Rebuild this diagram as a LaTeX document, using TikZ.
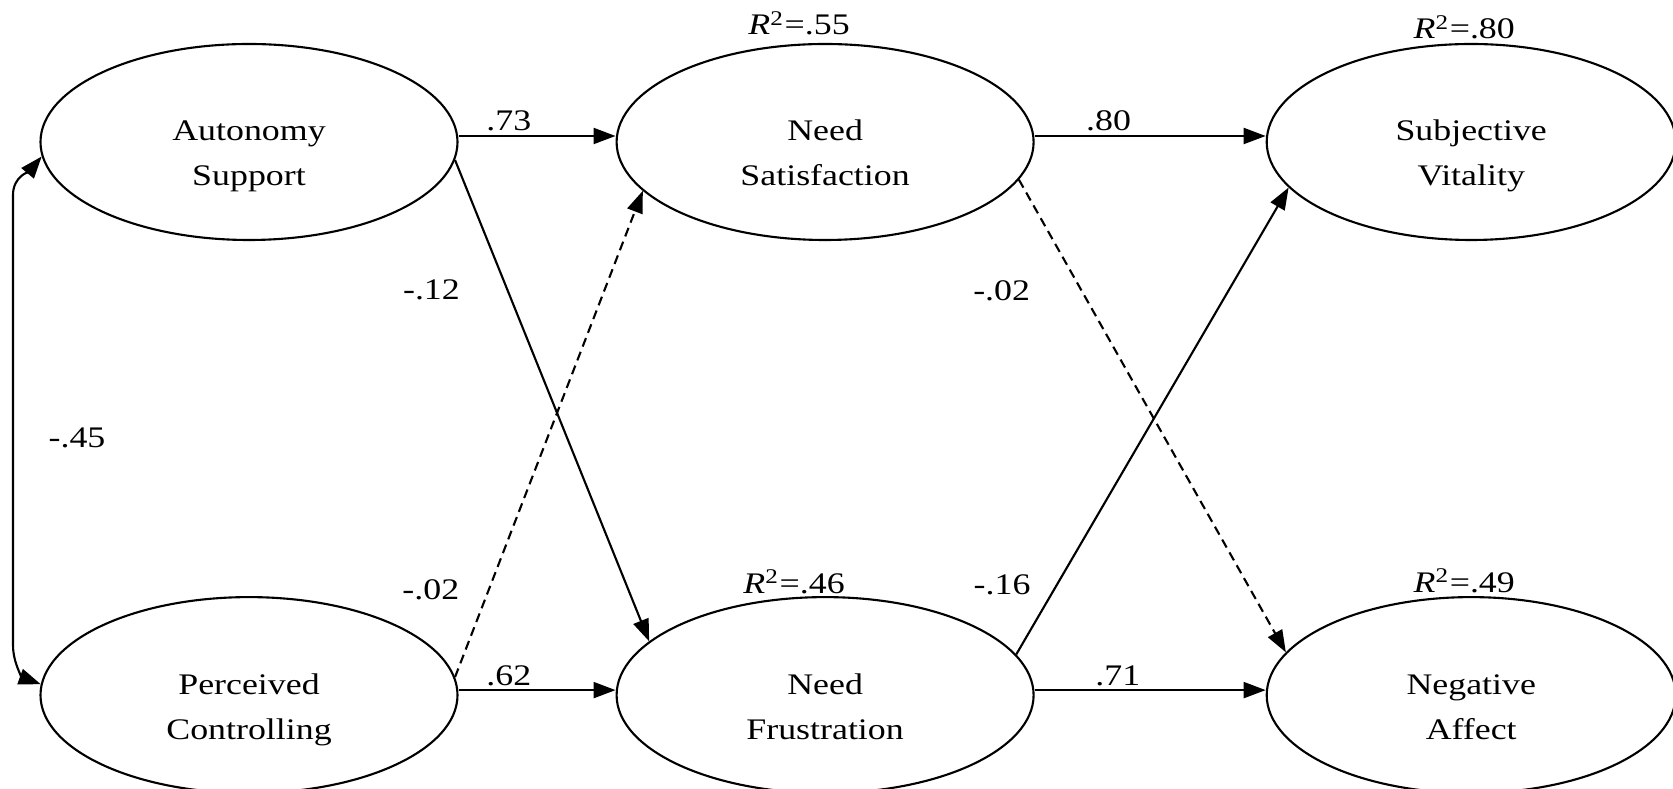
\documentclass[tikz,border=0pt]{standalone}
\usepackage{fontspec}
\setmainfont{Liberation Serif}[FakeStretch=1.2]
\usepackage{tikz}
\usetikzlibrary{arrows.meta, positioning, shapes.geometric}

\begin{document}
\begin{tikzpicture}[
    latent/.style={ellipse, draw, line width=0.6pt, inner sep=0pt,
                   minimum width=4.17cm, minimum height=1.96cm,
                   text width=2.4cm, align=center, text height=6pt, text depth=6.6pt,
                   font=\fontsize{8.5}{12.8}\selectfont},
    arrow/.style={-{Triangle[length=0.22cm, width=0.16cm]}, line width=0.6pt},
    dasharrow/.style={arrow, dash pattern=on 2.6pt off 1.6pt},
    corr/.style={{Triangle[length=0.22cm, width=0.16cm]}-{Triangle[length=0.22cm, width=0.16cm]}, line width=0.6pt},
    coef/.style={font=\fontsize{8.5}{10}\selectfont, inner sep=0pt},
    rsq/.style={font=\fontsize{8.5}{10}\selectfont, inner sep=0pt, anchor=base},
    node distance=1.57cm
]
    \useasboundingbox (0,0) rectangle (16.73,-7.89);

    \node[latent] (as) at (2.49,-1.42) {Autonomy\\Support};
    \node[latent, right=of as] (ns) {Need\\Satisfaction};
    \node[latent, minimum width=4.09cm, right=2.31cm of ns] (sv) {Subjective\\Vitality};
    \node[latent, below=3.55cm of as] (pc) {Perceived\\Controlling};
    \node[latent, right=of pc] (nf) {Need\\Frustration};
    \node[latent, minimum width=4.09cm, right=2.31cm of nf] (na) {Negative\\Affect};

    % explained variance
    \node[rsq] (rns) at ([xshift=-0.26cm, yshift=0.08cm]ns.north) {\textit{R}\textsuperscript{2}=.55};
    \node[rsq] (rsv) at ([xshift=-0.07cm, yshift=0.04cm]sv.north) {\textit{R}\textsuperscript{2}=.80};
    \node[rsq] (rnf) at ([xshift=-0.31cm, yshift=0.03cm]nf.north) {\textit{R}\textsuperscript{2}=.46};
    \node[rsq] (rna) at ([xshift=-0.07cm, yshift=0.04cm]na.north) {\textit{R}\textsuperscript{2}=.49};

    \draw[arrow] ([yshift=0.06cm]as.east) -- node[coef, pos=0.32, above=1pt] (c73) {.73} ([yshift=0.06cm]ns.west);
    \draw[arrow] ([yshift=0.06cm]ns.east) -- node[coef, pos=0.32, above=1pt] (c80) {.80} ([yshift=0.06cm]sv.west);
    \draw[arrow] ([yshift=0.05cm]pc.east) -- node[coef, pos=0.32, above=1pt] (c62) {.62} ([yshift=0.05cm]nf.west);
    \draw[arrow] ([yshift=0.05cm]nf.east) -- node[coef, pos=0.36, above=1pt] (c71) {.71} ([yshift=0.05cm]na.west);

    \draw[arrow] (as.-5) -- node[coef, pos=0.27, xshift=-0.76cm] (c12) {-.12} (nf.163);
    \draw[dasharrow] (pc.5) -- node[coef, pos=0.18, xshift=-0.58cm] (c02a) {-.02} (ns.195);
    \draw[dasharrow] (ns.-11) -- node[coef, pos=0.235, xshift=-0.80cm] (c02b) {-.02} (na.167);
    \draw[arrow] (nf.12) -- node[coef, pos=0.15, xshift=-0.55cm] (c16) {-.16} (sv.194);

    % correlation
    \coordinate (bendtop) at (0.13,-1.95);
    \coordinate (bendlow) at (0.13,-6.45);
    \draw[corr] (as.184) to[out=230, in=90] (bendtop) -- node[coef, pos=0.54, xshift=0.64cm] (c45) {-.45} (bendlow) to[out=-90, in=160] (pc.177);
\end{tikzpicture}
\end{document}
